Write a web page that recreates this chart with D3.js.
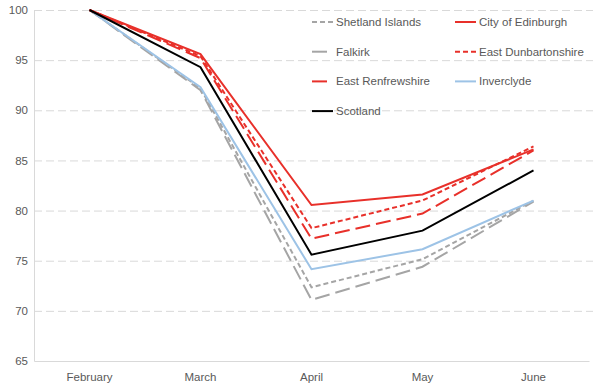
<!DOCTYPE html>
<html><head><meta charset="utf-8">
<script src="https://cdn.jsdelivr.net/npm/d3@7"></script>
<style>body{margin:0;background:#fff}svg{display:block}text{font-family:"Liberation Sans",Arial,sans-serif}</style>
</head><body><svg id="c" width="600" height="391"></svg>
<script>
const months = ["February","March","April","May","June"];
const yTicks = [65,70,75,80,85,90,95,100];
const seriesNames = ["Shetland Islands","City of Edinburgh","Falkirk","East Dunbartonshire","East Renfrewshire","Inverclyde","Scotland"];
const shetland = [100,92.2,72.35,75.15,81.0];
const edinburgh = [100,95.6,80.55,81.6,86.1];
const falkirk = [100,92.0,71.1,74.4,80.9];
const eastDunbartonshire = [100,95.4,78.25,81.0,86.4];
const eastRenfrewshire = [100,95.2,77.2,79.7,86.0];
const inverclyde = [100,92.3,74.15,76.15,81.0];
const scotland = [100,94.3,75.6,78.0,84.0];

const styles = {
  "Shetland Islands":{c:"#a5a5a5",d:"5,3"},
  "City of Edinburgh":{c:"#e8302a",d:null},
  "Falkirk":{c:"#a5a5a5",d:"15,6"},
  "East Dunbartonshire":{c:"#e8302a",d:"5,3"},
  "East Renfrewshire":{c:"#e8302a",d:"15,6"},
  "Inverclyde":{c:"#9dc3e6",d:null},
  "Scotland":{c:"#000000",d:null}
};
const values = {"Shetland Islands":shetland,"City of Edinburgh":edinburgh,"Falkirk":falkirk,
  "East Dunbartonshire":eastDunbartonshire,"East Renfrewshire":eastRenfrewshire,"Inverclyde":inverclyde,"Scotland":scotland};

const svg = d3.select("#c");
const L=34, R=589, T=10, B=361;
const FS = "11.5px";
const x = d3.scaleBand().domain(months).range([L,R]);
const y = d3.scaleLinear().domain([65,100]).range([B,T]);

// gridlines
svg.append("g").selectAll("line").data(yTicks.filter(v=>v>65)).join("line")
  .attr("x1",L).attr("x2",R+4).attr("y1",d=>y(d)+0.5).attr("y2",d=>y(d)+0.5)
  .attr("stroke","#d9d9d9").attr("stroke-dasharray","8,4").attr("stroke-width",1);

// axes
const ya = svg.append("g").attr("transform",`translate(${L},0)`)
  .call(d3.axisLeft(y).tickValues(yTicks).tickSize(0).tickPadding(6));
ya.select(".domain").attr("stroke","#d9d9d9");
ya.selectAll("text").attr("fill","#595959").style("font-size",FS).style("font-family","Liberation Sans, Arial, sans-serif");
const xa = svg.append("g").attr("transform",`translate(0,${B})`)
  .call(d3.axisBottom(x).tickSize(0).tickPadding(12));
xa.select(".domain").attr("stroke","#d9d9d9");
xa.selectAll("text").attr("fill","#595959").style("font-size",FS).style("font-family","Liberation Sans, Arial, sans-serif");

const line = d3.line().x((d,i)=>x(months[i])+x.bandwidth()/2).y(d=>y(d));
const drawOrder = ["Falkirk","Shetland Islands","Inverclyde","East Renfrewshire","East Dunbartonshire","City of Edinburgh","Scotland"];
svg.append("g").selectAll("path").data(drawOrder).join("path")
  .attr("d",n=>line(values[n])).attr("fill","none")
  .attr("stroke",n=>styles[n].c).attr("stroke-width",2)
  .attr("stroke-dasharray",n=>styles[n].d);

// legend
const lg = svg.append("g");
seriesNames.forEach((n,i)=>{
  const col=i%2, row=Math.floor(i/2);
  const lx = col?455:312, ly = 22+row*29.7;
  lg.append("line").attr("x1",lx).attr("x2",lx+21).attr("y1",ly).attr("y2",ly)
    .attr("stroke",styles[n].c).attr("stroke-width",2).attr("stroke-dasharray",styles[n].d);
  lg.append("text").attr("x",lx+24).attr("y",ly+4).text(n)
    .attr("fill","#595959").style("font-size",FS);
});
</script></body></html>
